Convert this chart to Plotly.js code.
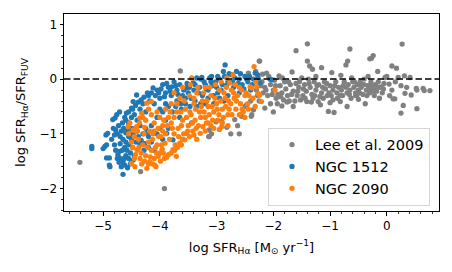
<!DOCTYPE html>
<html>
<head>
<meta charset="utf-8">
<script src="https://cdn.plot.ly/plotly-3.0.1.min.js"></script>
<style>html,body{margin:0;padding:0;background:#fff;}#chart{width:452px;height:272px;}</style>
</head>
<body>
<div id="chart"></div>
<script>
// Lee et al. 2009 (grey)
const leeX = [-5.41,-3.92,-4.34,-3.13,-3.64,-3.01,-3.13,-3.09,-3.14,-2.91,-2.82,-2.63,-2.75,-2.60,-2.44,-2.47,-2.38,-2.56,-2.68,-2.57,-2.39,
 -2.25,-2.31,-2.24,-2.19,-2.12,-2.20,-2.15,-2.10,-2.05,-2.00,-1.95,-1.90,-1.84,-1.88,-1.85,-1.85,-1.80,-1.78,-1.75,-1.70,-1.72,-1.67,-1.65,-1.65,-1.60,-1.60,-1.58,-1.55,-1.52,-2.35,-2.15,-2.25,-2.30,-2.05,-1.98,-2.08,-2.18,-1.92,-1.82,-2.00,
 -1.40,-1.40,-1.36,-1.31,-1.15,-0.97,-0.81,-1.45,-1.42,-1.41,-1.38,-1.35,-1.32,-1.28,-1.25,-1.21,-1.20,-1.17,-1.15,-1.10,-1.08,-1.05,-1.03,-1.00,-1.00,-0.95,-0.95,-0.93,-0.90,-0.88,-0.85,-0.82,-0.82,-1.48,-1.30,-1.12,-1.50,-1.25,
 -0.65,-0.69,-0.72,-0.24,-0.27,-0.30,-0.16,-0.03,-0.33,-0.75,-0.72,-0.70,-0.68,-0.65,-0.63,-0.60,-0.58,-0.55,-0.52,-0.50,-0.50,-0.47,-0.45,-0.42,-0.40,-0.38,-0.36,-0.33,-0.30,-0.28,-0.25,-0.22,-0.20,-0.18,-0.15,-0.13,-0.12,-0.10,-0.08,-0.05,0.04,-0.62,-0.40,-0.55,-0.78,-0.70,
 0.27,0.09,0.17,0.31,0.41,0.20,0.09,0.11,0.14,0.32,0.43,0.53,0.52,0.66,0.64,0.76,0.29,0.25,0.53,0.15,0.25,0.05,0.35,0.00,
 -2.22,-2.13,-2.02,-1.96,-1.93,-1.87,-1.76,-1.73,-1.68,-1.62,-1.57,-1.54,-1.47,-1.44,-1.37,-1.33,-1.27,-1.23,-1.18,-1.13,-1.06,-1.02,-0.98,-0.92,-0.87,-0.80,-0.77,-0.66,-0.57,-0.53,-0.48,-0.44,-0.35,-0.32,-0.26,-0.23,-0.17,-0.06,-2.28,-2.40,-2.50];
const leeY = [-1.52,-2.00,-1.69,-1.05,0.15,-0.78,-0.93,-1.00,-1.05,-0.77,-0.88,-0.85,-1.00,-1.00,0.11,-0.47,-0.65,-0.68,-0.74,-0.65,-0.68,
 0.33,0.14,0.33,0.09,0.11,-0.05,-0.15,-0.30,-0.10,-0.20,-0.35,0.06,0.02,-0.12,-0.25,-0.49,-0.05,-0.18,-0.30,-0.10,-0.40,0.13,-0.50,-0.22,0.52,-0.08,-0.30,-0.15,-0.38,-0.56,-0.53,-0.40,-0.20,-0.45,-0.02,0.05,-0.25,-0.28,-0.38,-0.60,
 0.645,0.33,0.24,0.18,0.21,0.12,0.07,-0.10,-0.22,-0.41,0.00,-0.15,-0.28,-0.05,-0.20,-0.41,-0.10,-0.47,-0.25,-0.05,-0.18,-0.30,-0.59,-0.43,-0.12,-0.38,-0.20,-0.61,-0.05,-0.25,-0.15,-0.41,-0.30,-0.30,-0.35,-0.35,0.02,0.05,
 0.55,0.33,0.26,0.43,0.38,0.37,0.14,0.03,0.05,-0.05,-0.15,-0.25,-0.10,-0.20,-0.35,-0.05,-0.15,-0.25,-0.10,-0.37,-0.20,-0.05,-0.15,-0.28,-0.10,-0.45,-0.20,-0.12,-0.25,-0.05,-0.18,-0.30,-0.10,-0.22,-0.05,-0.35,-0.15,-0.14,-0.25,-0.08,-0.09,0.02,0.00,-0.30,-0.30,-0.50,
 0.64,0.24,0.20,0.06,0.03,0.03,-0.20,-0.36,-0.36,-0.26,-0.29,-0.20,-0.17,-0.21,-0.17,-0.21,-0.48,-0.62,-0.54,-0.05,-0.12,-0.30,-0.15,0.05,
 -0.12,-0.20,-0.28,-0.12,-0.45,-0.32,-0.42,-0.05,-0.28,-0.40,-0.22,-0.05,-0.18,-0.35,-0.08,-0.42,-0.30,-0.12,-0.32,-0.15,-0.08,-0.25,-0.30,-0.12,-0.35,-0.20,-0.12,-0.28,-0.05,-0.30,-0.25,-0.10,-0.30,-0.20,-0.12,-0.22,-0.15,-0.18,-0.30,-0.40,-0.50];

// NGC 1512 (blue)
const n1512X = [-5.20,-5.20,-5.00,-4.97,-4.94,-4.95,-4.92,
 -4.94,-4.89,-4.89,-4.88,-4.65,-4.71,-4.65,-4.62,-4.68,-4.71,-4.74,
 -4.82,-4.78,-4.83,-4.79,-4.76,-4.71,-4.59,-4.50,-4.47,-4.41,-4.12,
 -4.75,-4.70,-4.65,-4.60,-4.55,-4.70,-4.62,-4.58,-4.52,-4.68,-4.60,-4.55,-4.50,-4.48,-4.45,-4.55,-4.60,-4.50,-4.42,
 -4.60,-4.55,-4.50,-4.45,-4.40,-4.35,-4.30,-4.25,-4.50,-4.40,-4.35,-4.30,-4.25,-4.20,-4.15,
 -4.20,-4.15,-4.05,-4.00,-3.95,-3.90,-3.85,-4.10,-4.00,-3.90,-3.80,-3.79,-3.75,-3.70,
 -4.35,-4.28,-4.20,-4.15,-4.10,-4.05,-3.95,-3.88,-3.77,-3.85,
 -3.65,-3.53,-3.41,-3.35,-3.26,-3.09,-3.60,-3.50,-3.45,-3.40,-3.30,-3.25,-3.20,-3.15,-3.10,-3.05,-3.00,-3.55,-3.35,-3.20,-3.70,-3.62,-3.44,
 -2.95,-2.90,-2.85,-2.88,-2.80,-2.74,-2.65,-2.70,-2.60,-2.55,-2.50,-2.45,-2.40,-2.32,-2.28,-2.27,-2.24,-2.06,-2.03,-2.95,-2.80,-2.60,
 -4.62,-4.55,-4.48,-4.43,-4.38,-4.33,-4.28,-4.22,-4.18,-4.08,-4.02,-3.98,-3.92,-3.88,-3.82,-3.72,-3.68,-3.58,-3.52,-3.48,-3.38,-3.32,-3.28,-3.22,-3.18,-3.12,-3.08,-3.02,-2.98,-2.92,-2.86,-2.83,-2.78,-2.72,-2.68,-2.62,-2.58,-2.52,-2.47,-2.42,-2.37,-2.35,
 -4.85,-4.80,-4.78,-4.75,-4.72,-4.66,-4.63,-4.57,-4.52,-4.47,-4.80,-4.73,-4.66,-4.64,-4.57,-4.53,-4.47,-4.43,-4.38,-4.33,-4.27,-4.22,
 -4.05,-3.95,-3.85,-3.78,-3.72,-3.63,-3.55,-3.47,-3.38,-3.28,-3.15,-3.05,-2.98,-2.87,-3.90,-4.00,-3.65];
const n1512Y = [-1.23,-1.27,-1.27,-1.23,-1.20,-1.02,-0.99,
 -1.44,-1.44,-1.57,-1.60,-1.74,-1.44,-1.51,-1.57,-1.60,-1.32,-1.38,
 -0.90,-0.93,-0.74,-0.71,-0.65,-0.60,-0.62,-0.53,-0.41,-0.29,-0.16,
 -1.00,-1.05,-1.10,-1.15,-1.20,-1.18,-1.25,-1.30,-1.35,-0.95,-0.98,-1.05,-1.10,-1.25,-1.40,-1.45,-1.40,-1.50,-1.15,
 -0.75,-0.80,-0.70,-0.65,-0.75,-0.55,-0.45,-0.60,-0.90,-0.95,-0.85,-1.00,-0.90,-1.05,-0.85,
 -0.30,-0.25,-0.20,-0.35,-0.10,-0.25,-0.15,-0.45,-0.55,-0.45,-0.30,-0.14,-0.05,-0.20,
 -1.20,-1.30,-1.25,-1.15,-1.30,-1.00,-1.10,-0.99,-1.11,-0.90,
 -0.10,-0.16,-0.07,0.02,0.03,0.05,-0.30,-0.25,-0.35,-0.20,-0.15,-0.30,-0.10,-0.20,-0.05,-0.30,-0.15,-0.45,-0.50,-0.45,-0.40,-0.55,-0.80,
 0.00,-0.10,0.26,0.14,-0.05,0.08,0.14,-0.15,0.00,-0.10,0.05,-0.05,-0.20,0.11,0.08,0.02,-0.07,0.00,-0.01,-0.35,-0.30,-0.25,
 -0.70,-0.60,-0.55,-0.48,-0.42,-0.38,-0.33,-0.25,-0.40,-0.30,-0.25,-0.18,-0.32,-0.08,-0.22,-0.12,-0.28,-0.20,-0.08,-0.15,-0.10,-0.25,0.00,-0.05,-0.18,0.02,-0.12,-0.05,0.05,-0.20,0.05,-0.12,0.10,-0.05,0.02,-0.08,0.10,-0.18,0.00,0.05,-0.10,0.00,
 -1.10,-1.20,-1.30,-1.45,-1.52,-1.30,-1.45,-1.62,-1.55,-1.48,-1.02,-0.85,-0.80,-0.90,-0.92,-1.00,-1.02,-0.90,-1.05,-1.12,-1.18,-0.98,
 -0.70,-0.60,-0.50,-0.60,-0.50,-0.45,-0.35,-0.50,-0.40,-0.45,-0.35,-0.45,-0.25,-0.40,-0.75,-0.90,-0.70];

// NGC 2090 (orange)
const n2090X = [-4.50,-4.44,-4.23,-4.18,-4.09,-4.07,-4.03,-3.88,-3.85,-3.71,-3.94,-3.97,-3.91,-3.77,-3.65,-3.56,-3.53,-3.29,-3.24,-3.15,-2.91,
 -4.23,-4.15,-4.32,-4.35,-4.53,-4.41,-4.56,-4.47,
 -4.55,-4.50,-4.45,-4.40,-4.38,-4.35,-4.30,-4.28,-4.25,-4.20,-4.15,-4.12,-4.10,-4.05,-4.00,-4.02,-4.45,-4.32,-4.20,
 -4.25,-4.20,-4.15,-4.10,-4.05,-4.00,-3.95,-3.90,-3.85,-3.80,-4.10,-3.95,
 -3.80,-3.75,-3.70,-3.68,-3.65,-3.60,-3.58,-3.55,-3.50,-3.48,-3.45,-3.42,-3.40,-3.38,-3.35,-3.30,-3.32,-3.75,-3.44,-3.60,
 -3.25,-3.20,-3.15,-3.10,-3.05,-3.00,-2.98,-2.95,-2.90,-2.85,-2.82,-2.80,-2.77,-2.75,-2.71,-2.70,-3.10,-2.90,-3.20,
 -2.65,-2.60,-2.55,-2.50,-2.45,-2.41,-2.38,-2.34,-2.29,-2.27,-2.24,-2.21,-1.97,-2.60,-2.50,
 -4.40,-4.36,-4.30,-4.27,-4.22,-4.18,-4.13,-4.08,-4.03,-3.98,-3.93,-3.90,-3.87,-3.83,-3.82,-3.78,-3.75,-3.73,-3.70,-3.67,-3.63,-3.62,-3.57,-3.53,-3.51,-3.47,-3.46,-3.43,-3.40,-3.37,-3.36,-3.33,-3.28,-3.27,-3.23,-3.22,-3.18,-3.17,-3.13,-3.12,-3.08,-3.07,-3.03,-3.02,-2.99,-2.96,-2.93,-2.92,-2.88,-2.87,-2.84,-2.83,-2.79,-2.78,-2.74,-2.73,-2.69,-2.67,-2.66,-2.63,-2.58,-2.56,-2.53,-2.48,-2.44,-2.43,-2.36,-2.32,-2.31,
 -4.48,-4.43,-4.37,-4.33,-4.27,-4.17,-4.13,-4.06,-3.99,-3.96,-3.92,-3.80,-3.74,-3.69,-3.60,-3.62,-3.48,-3.40,-3.35,-3.20,-3.05,-2.95,-2.80];
const n2090Y = [-1.54,-1.60,-1.63,-1.51,-1.57,-1.60,-1.41,-1.43,-1.38,-1.41,-1.35,-1.20,-1.17,-1.29,-1.17,-1.11,-0.99,-0.99,-0.87,-0.80,-0.87,
 -0.44,-0.41,-0.62,-0.71,-0.80,-0.87,-0.87,-0.93,
 -1.00,-1.15,-1.05,-1.30,-1.10,-1.45,-1.20,-1.00,-1.40,-1.15,-1.30,-1.00,-1.45,-1.20,-1.35,-1.05,-1.45,-1.55,-1.55,
 -0.75,-0.55,-0.65,-0.80,-0.60,-0.70,-0.85,-0.55,-0.70,-0.45,-0.95,-0.95,
 -0.80,-1.00,-0.60,-0.90,-0.35,-0.75,-1.00,-0.55,-0.85,-0.30,-0.65,-0.95,-0.45,-0.75,-0.25,-0.60,-0.85,-0.25,0.02,-0.15,
 -0.40,-0.70,-0.50,-0.30,-0.60,-0.45,-0.75,-0.20,-0.55,-0.35,0.02,-0.65,-0.07,-0.45,0.08,-0.25,-0.85,-0.80,-0.15,
 -0.40,-0.15,-0.55,-0.30,-0.45,-0.14,-0.16,0.23,-0.14,-0.26,-0.29,-0.41,-0.20,-0.65,-0.70,
 -0.95,-0.80,-0.70,-0.88,-1.25,-0.95,-1.10,-1.25,-0.90,-1.05,-0.75,-1.00,-0.85,-1.10,-0.60,-0.90,-0.70,-1.20,-0.45,-1.05,-0.60,-0.85,-0.40,-0.70,-0.95,-0.60,-0.10,-0.80,-0.35,-0.55,-0.90,-0.15,-0.70,-0.50,-0.25,-0.60,-0.80,-0.40,-0.65,-0.15,-0.50,-0.75,-0.35,-0.10,-0.55,-0.65,-0.40,-0.05,-0.70,-0.25,-0.50,-0.15,-0.40,-0.55,-0.20,-0.65,-0.35,-0.10,-0.55,-0.30,-0.45,-0.20,-0.60,-0.25,-0.55,-0.30,-0.35,-0.50,-0.05,
 -1.25,-1.38,-1.25,-1.35,-1.50,-1.42,-1.55,-1.35,-1.50,-1.28,-1.45,-1.35,-1.30,-1.25,-1.10,-1.20,-1.05,-1.02,-1.10,-0.95,-0.90,-0.92,-0.85];

const seriesNames = ['Lee et al. 2009', 'NGC 1512', 'NGC 2090'];
const seriesColors = ['#808080', '#1f77b4', '#ff7f0e'];

function sc(x, y, i) {
  return {x: x, y: y, type: 'scatter', mode: 'markers', name: seriesNames[i],
    marker: {color: seriesColors[i], size: 5.3, line: {width: 0}}, cliponaxis: true};
}
const data = [sc(leeX, leeY, 0), sc(n1512X, n1512Y, 1), sc(n2090X, n2090Y, 2)];

const font = {family: 'DejaVu Sans, sans-serif', color: '#000'};
const axisCommon = {
  showline: true, mirror: true, linecolor: '#000', linewidth: 1,
  ticks: 'outside', ticklen: 3.5, tickwidth: 1, tickcolor: '#000',
  showgrid: false, zeroline: false,
  tickfont: {family: font.family, size: 12, color: '#000'},
  minor: {dtick: 0.2, ticks: 'outside', ticklen: 2, tickwidth: 0.8, tickcolor: '#000', showgrid: false}
};
const layout = {
  width: 452, height: 272,
  margin: {l: 64, r: 13, t: 14, b: 61},
  paper_bgcolor: '#fff', plot_bgcolor: '#fff',
  font: font,
  showlegend: true,
  xaxis: Object.assign({}, axisCommon, {
    range: [-5.69, 0.92], dtick: 1, tick0: 0,
    title: {text: 'log SFR<sub>Hα</sub> [M<sub>⊙</sub> yr<sup>−1</sup>]', font: {family: font.family, size: 13, color: '#000'}, standoff: 10}
  }),
  yaxis: Object.assign({}, axisCommon, {
    range: [-2.41, 1.19], dtick: 1, tick0: 0,
    title: {text: 'log SFR<sub>Hα</sub>/SFR<sub>FUV</sub>', font: {family: font.family, size: 13, color: '#000'}, standoff: 10}
  }),
  legend: {
    x: 0.976, y: 0.027, xanchor: 'right', yanchor: 'bottom',
    bgcolor: 'rgba(255,255,255,0.8)', bordercolor: '#d6d6d6', borderwidth: 1,
    font: {family: font.family, size: 14.5, color: '#000'},
    itemwidth: 36
  },
  shapes: [{type: 'line', xref: 'paper', x0: 0, x1: 1, yref: 'y', y0: 0, y1: 0,
    line: {color: '#000', width: 1.5, dash: '6.5px,3px'}, layer: 'above'}]
};
Plotly.newPlot('chart', data, layout, {staticPlot: true, displayModeBar: false});
</script>
</body>
</html>
